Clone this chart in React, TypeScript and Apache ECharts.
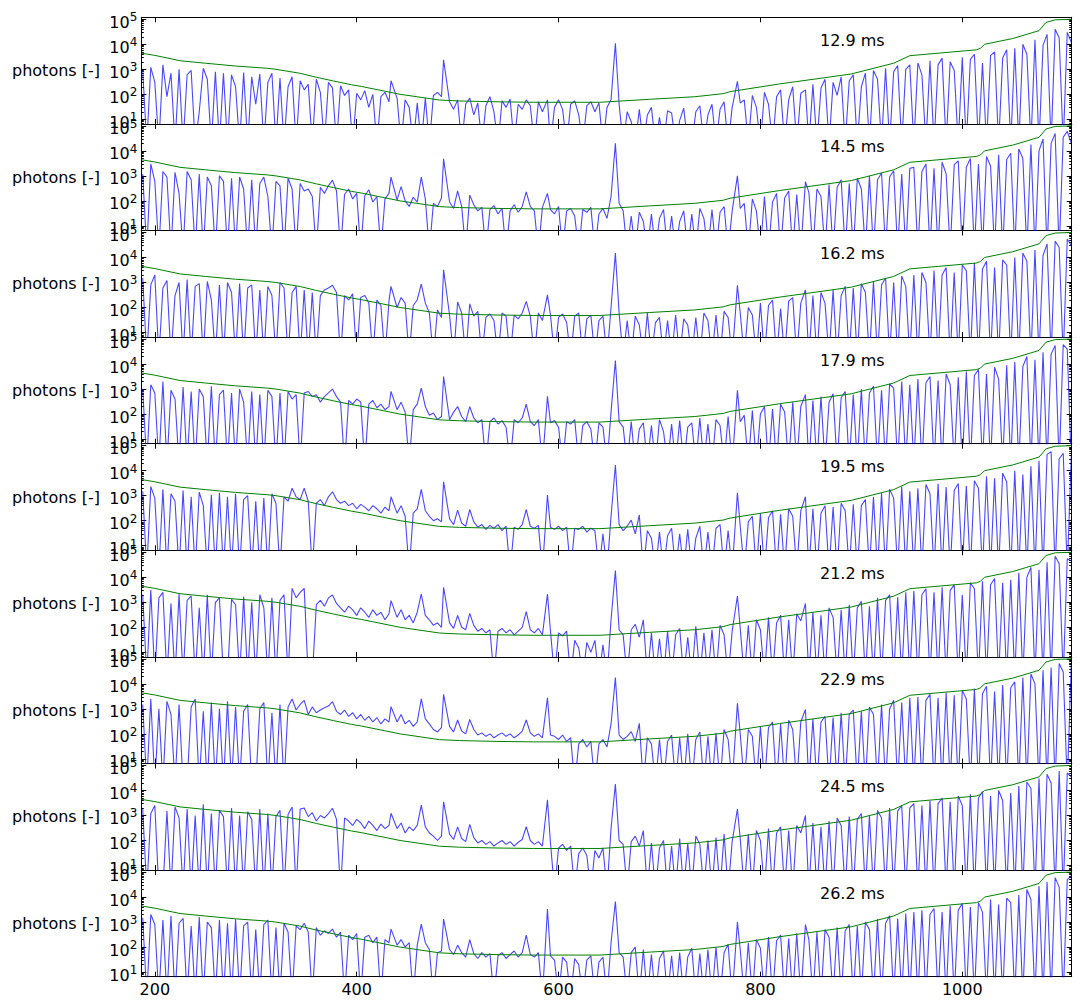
import React, { useEffect, useRef } from 'react';
import * as echarts from 'echarts';

// ---------- axis ranges & ticks ----------
const X_MIN = 186.6;
const X_MAX = 1108.4;
const Y_MIN = 6.55;
const Y_MAX = 120000;
const X_TICKS = [200, 400, 600, 800, 1000];
const Y_TICKS = [10, 100, 1000, 10000, 100000];
const TIMES_MS = ['12.9', '14.5', '16.2', '17.9', '19.5', '21.2', '22.9', '24.5', '26.2'];

// spectrum sampled on a regular wavelength grid: 188, 192, ..., 1108 nm
const GRID_START_NM = 188;
const GRID_STEP_NM = 4;

// emission lines (nm) and their peak photons per panel
const LINE_NM = [434.0, 486.1, 589.0, 656.3, 777.2, 844.6];
const LINES_1 = [350, 2400, 60, 11000, 330, 150];
const LINES_2 = [900, 4800, 200, 20000, 1000, 590];
const LINES_3 = [700, 3200, 320, 15000, 770, 500];
const LINES_4 = [810, 3200, 520, 14000, 890, 600];
const LINES_5 = [910, 3600, 1070, 17000, 1320, 910];
const LINES_6 = [1170, 4000, 2150, 18600, 1780, 900];
const LINES_7 = [1230, 3800, 2800, 18000, 1660, 950];
const LINES_8 = [1230, 3550, 4200, 18000, 1820, 1000];
const LINES_9 = [525, 1320, 3300, 6700, 1000, 800];

// green threshold curve
const GREEN_NM = [187, 200, 225, 250, 280, 311, 320, 344, 360, 377, 395, 405, 443, 482, 502, 540, 575, 641, 690, 735, 763, 770, 819, 860, 890, 932, 948, 1014, 1018, 1022, 1050, 1076, 1083, 1092, 1108];
const GREEN_PHOTONS = [4400, 3600, 2200, 1750, 1350, 1100, 1000, 690, 480, 340, 240, 205, 100, 59, 54, 50, 48, 48, 63, 80, 106, 128, 260, 440, 650, 1750, 3500, 6000, 6900, 10000, 17000, 35000, 75000, 95000, 100000];

// blue spectra (photons), 231 samples each; 1 = below the axis floor
const SPEC_1 = [
  900, 1, 1200, 300, 1, 1500, 80, 700, 1, 1000, 1, 600, 900, 1, 20, 1100, 400, 1, 800, 1, 700,
  1, 600, 200, 1, 750, 1, 500, 40, 650, 1, 300, 700, 1, 450, 1, 200, 500, 1, 350, 150,
  250, 1, 400, 120, 1, 300, 180, 1, 220, 90, 150, 1, 110, 60, 140, 30, 100, 1, 80, 120, 50, 90, 70, 1, 60, 30, 1, 45, 1, 70, 1, 90, 120, 80, 60,
  50, 25, 60, 1, 40, 70, 15, 45, 1, 35, 80, 20, 1, 55, 30, 65, 1, 40, 25, 60,
  35, 1, 50, 20, 45, 1, 30, 60, 25, 1, 40, 55, 15, 1, 35, 50, 20, 45, 1, 30,
  60, 300, 40,
  1, 20, 8, 1, 25, 1, 15, 30, 1, 12, 1, 22, 18, 1, 9, 28, 1, 1, 20, 35, 1, 15, 40, 1, 25, 50, 1, 30, 300, 45,
  60, 1, 90, 30, 1, 120, 40, 1, 80, 150, 1, 60, 200, 1, 110, 340, 1,
  250, 1, 180, 400, 1, 300, 90, 500, 1, 350, 600, 1, 200, 700, 1, 900, 400, 1, 1100, 1, 800, 1400, 1, 1000, 1500,
  1, 1800, 600, 1, 2200, 1, 1500, 2800, 1, 2000, 900, 1, 3000, 1, 2500, 4000, 1, 1800, 1, 3500, 5000, 1, 2800, 6000, 1,
  7000, 1, 10000, 4000, 1, 15000, 1, 9000, 25000, 1, 40000, 18000, 1, 30000, 12000,
];
const SPEC_2 = [
  1200, 1, 3000, 600, 1, 1500, 900, 1, 1400, 200, 1, 1500, 700, 1, 1200, 1, 900, 400, 1, 1000, 600,
  1, 800, 1, 900, 300, 1, 700, 1, 500, 900, 150, 1, 600, 400, 1, 800, 300, 1, 500, 250,
  300, 150, 1, 350, 200, 400, 680, 250, 1, 180, 300, 120, 200, 1, 160, 280, 90, 150, 1, 120, 200, 150, 110, 370, 100, 60, 140, 90, 900, 120, 1, 80, 60, 130, 100,
  90, 50, 250, 60, 1, 170, 70, 40, 55, 1, 45, 65, 30, 50, 1, 40, 70, 35, 60, 230,
  60, 40, 1, 55, 200, 45, 30, 60, 1, 40, 50, 25, 1, 45, 35, 55, 1, 30, 50, 20,
  150, 300, 80,
  40, 1, 25, 1, 35, 15, 1, 30, 1, 20, 45, 1, 25, 1, 15, 40, 1, 30, 1, 50, 20, 1, 45, 1, 35, 60, 1, 40, 1000, 50,
  80, 1, 120, 40, 1, 150, 1, 90, 200, 1, 130, 250, 1, 180, 1, 590, 220,
  1, 300, 150, 1, 450, 1, 350, 700, 1, 500, 1, 800, 300, 1, 1000, 1, 700, 1300, 1, 900, 1600, 1, 1200, 1, 2000,
  2200, 1, 1500, 3000, 1, 2000, 1, 3500, 1200, 1, 2800, 4000, 1, 2200, 5000, 1, 3000, 1, 6000, 2500, 1, 7000, 1, 4500, 8000,
  1, 12000, 5000, 1, 18000, 1, 10000, 30000, 1, 20000, 50000, 1, 35000, 60000, 20000,
];
const SPEC_3 = [
  1500, 1, 800, 2000, 1, 600, 1200, 1, 300, 1000, 1, 1300, 1, 700, 900, 1, 1100, 200, 1, 800, 1,
  1000, 400, 1, 900, 1, 600, 800, 1, 500, 1, 700, 300, 1, 1000, 600, 1, 400, 700, 1, 500,
  1, 400, 1, 300, 500, 600, 770, 400, 1, 300, 200, 350, 1, 250, 300, 150, 1, 200, 120, 1, 180, 200, 100, 250, 150, 1, 120, 200, 870, 150, 60, 1, 80, 40, 100,
  50, 1, 165, 60, 1, 140, 45, 70, 1, 40, 55, 30, 1, 60, 45, 1, 50, 35, 60, 175,
  45, 1, 60, 30, 320, 50, 1, 40, 55, 25, 1, 45, 60, 1, 35, 50, 1, 30, 45, 1,
  100, 300, 60,
  1, 30, 1, 45, 20, 1, 60, 1, 25, 40, 1, 30, 1, 50, 1, 35, 20, 1, 40, 1, 60, 30, 1, 50, 1, 70, 40, 1, 770, 60,
  1, 100, 50, 1, 150, 1, 120, 200, 1, 90, 1, 180, 250, 1, 150, 500, 1,
  300, 1, 400, 150, 1, 500, 1, 300, 700, 1, 600, 1, 900, 400, 1, 1100, 1, 800, 1500, 1, 1000, 1, 1800, 700, 1,
  2000, 1, 2500, 1000, 1, 3000, 1, 2000, 4000, 1, 2500, 1, 5000, 3000, 1, 6000, 1, 3500, 7000, 1, 4000, 1, 8000, 5000, 1,
  10000, 1, 15000, 7000, 1, 20000, 1, 12000, 35000, 1, 45000, 25000, 1, 55000, 30000,
];
const SPEC_4 = [
  1000, 1, 1500, 700, 1, 2000, 1, 900, 400, 1, 1200, 1, 800, 1, 1000, 500, 1, 1300, 1, 600, 900,
  1, 700, 1, 1000, 300, 1, 800, 1, 600, 1, 900, 500, 1, 700, 1, 800, 400, 600, 1, 700,
  800, 500, 600, 300, 500, 700, 1000, 500, 300, 1, 350, 250, 400, 300, 1, 250, 350, 180, 250, 150, 200, 300, 150, 300, 120, 1, 150, 250, 1100, 200, 90, 110, 60, 80, 100,
  60, 120, 200, 80, 50, 200, 70, 45, 60, 1, 50, 70, 40, 55, 30, 1, 60, 45, 70, 250,
  50, 35, 60, 1, 520, 45, 55, 30, 1, 50, 40, 60, 1, 35, 50, 25, 1, 45, 30, 1,
  120, 300, 50,
  30, 1, 50, 1, 25, 45, 1, 35, 1, 60, 20, 1, 40, 1, 55, 1, 30, 45, 1, 70, 1, 40, 1, 60, 35, 1, 80, 1, 890, 50,
  90, 1, 140, 1, 100, 200, 1, 160, 1, 250, 120, 1, 300, 1, 200, 600, 1,
  350, 1, 500, 1, 300, 650, 1, 450, 800, 1, 600, 1, 1000, 1, 700, 1300, 1, 900, 1, 1600, 1100, 1, 2000, 1, 1500,
  1, 2500, 1, 1800, 3200, 1, 2200, 1, 4000, 1500, 1, 3000, 1, 5000, 1, 3500, 6000, 1, 4000, 1, 7500, 2500, 1, 9000, 1,
  12000, 1, 8000, 20000, 1, 15000, 1, 30000, 1, 25000, 55000, 1, 60000, 40000, 1,
];
const SPEC_5 = [
  1500, 1, 2300, 800, 1, 1800, 1, 1200, 600, 1, 1600, 1, 900, 1, 1400, 400, 1, 1100, 1, 1300, 1,
  900, 1, 1200, 1, 700, 1000, 1, 600, 1, 800, 1, 1200, 500, 1, 900, 600, 2000, 900, 700, 2000,
  600, 1, 500, 700, 400, 900, 1440, 700, 500, 600, 400, 500, 300, 450, 350, 250, 400, 300, 200, 350, 250, 300, 200, 400, 150, 1, 200, 300, 1780, 250, 150, 100, 120, 90, 80,
  120, 70, 265, 80, 60, 280, 90, 55, 70, 45, 65, 50, 70, 40, 60, 1, 55, 45, 70, 280,
  60, 50, 65, 1, 1070, 55, 45, 60, 40, 55, 1, 50, 45, 60, 35, 50, 40, 1, 30, 1,
  150, 400, 70,
  40, 60, 105, 30, 170, 1, 40, 20, 1, 35, 1, 25, 50, 1, 30, 1, 45, 1, 20, 60, 1, 35, 1, 50, 70, 1, 40, 1, 1320, 60,
  1, 90, 150, 1, 200, 1, 130, 250, 1, 180, 1, 300, 150, 1, 250, 910, 1,
  300, 1, 200, 400, 1, 350, 1, 500, 250, 1, 450, 1, 400, 700, 1, 900, 1, 1300, 1, 1800, 800, 1, 2300, 1, 1500,
  1, 2000, 1, 2800, 1200, 1, 3000, 1, 2200, 1, 1600, 3100, 1, 2500, 1, 4000, 2000, 1, 6000, 1, 5000, 1, 8000, 3500, 1,
  10000, 1, 7000, 1, 15000, 1, 25000, 1, 45000, 57000, 1, 30000, 50000, 1, 40000,
];
const SPEC_6 = [
  2000, 1, 3100, 1, 1500, 2500, 1, 900, 1, 2200, 1, 1200, 1800, 1, 600, 1, 2000, 1, 1000, 1500, 1,
  1, 1300, 800, 1, 1700, 1, 1000, 1, 2000, 600, 1, 1500, 1, 1200, 2000, 1, 3600, 1500, 2500, 3600,
  1, 1, 800, 1200, 700, 1500, 1950, 900, 600, 400, 700, 500, 300, 600, 400, 250, 500, 300, 400, 200, 350, 400, 250, 500, 200, 300, 150, 400, 2150, 300, 200, 120, 150, 100, 120,
  150, 90, 300, 100, 80, 360, 120, 70, 90, 60, 80, 1, 70, 90, 60, 80, 50, 70, 100, 425,
  80, 60, 90, 50, 2150, 70, 1, 60, 45, 70, 1, 30, 15, 1, 25, 10, 30, 1, 20, 1,
  200, 400, 80,
  50, 1, 80, 130, 40, 200, 1, 60, 1, 35, 1, 70, 1, 50, 90, 1, 40, 1, 110, 1, 60, 1, 80, 1, 120, 50, 1, 70, 1780, 90,
  1, 120, 1, 200, 80, 1, 250, 1, 150, 300, 1, 200, 1, 350, 180, 900, 1,
  400, 1, 300, 1, 600, 250, 1, 500, 1, 800, 1, 600, 1100, 1, 700, 1, 1500, 1, 1200, 2000, 1, 1600, 1, 2500, 1,
  2800, 1, 2000, 3500, 1, 2500, 1, 4000, 1, 3000, 5000, 1, 2000, 1, 6000, 3500, 1, 7000, 1, 5000, 9000, 1, 6000, 1, 8000,
  1, 15000, 1, 10000, 25000, 1, 20000, 1, 40000, 1, 70000, 35000, 1, 55000, 45000,
];
const SPEC_7 = [
  1500, 1, 2500, 1, 1000, 1, 2000, 600, 1, 1500, 1, 1, 1200, 2500, 1, 800, 1, 1800, 1, 1000, 1,
  2000, 1, 1200, 1, 800, 1500, 1, 1, 1000, 1800, 1, 700, 1, 1500, 1, 1200, 2500, 900, 1500, 2200,
  600, 1200, 700, 900, 1100, 1300, 1950, 800, 600, 900, 500, 700, 400, 600, 350, 500, 300, 450, 250, 400, 300, 500, 300, 600, 250, 350, 200, 300, 2500, 400, 250, 150, 120, 180, 150,
  200, 120, 360, 130, 100, 380, 150, 90, 110, 80, 100, 70, 90, 110, 80, 100, 70, 90, 130, 360,
  110, 80, 100, 70, 2800, 90, 80, 60, 90, 50, 70, 1, 40, 60, 30, 50, 1, 40, 60, 30,
  250, 500, 90,
  60, 80, 123, 50, 265, 1, 70, 40, 1, 60, 1, 50, 90, 1, 70, 1, 100, 1, 60, 120, 1, 80, 1, 110, 1, 150, 60, 1, 1660, 100,
  1, 150, 80, 1, 200, 1, 180, 300, 1, 250, 1, 350, 150, 1, 300, 950, 1,
  400, 1, 300, 500, 1, 450, 1, 700, 1, 600, 900, 1, 800, 1, 1200, 600, 1, 1500, 1, 1000, 2200, 1, 1800, 1, 2800,
  1, 3000, 1, 2200, 3800, 1, 2800, 1, 4500, 1, 3500, 1, 5500, 2500, 1, 6500, 1, 4000, 8000, 1, 5000, 1, 9000, 1, 7000,
  12000, 1, 18000, 1, 25000, 10000, 1, 35000, 1, 45000, 1, 65000, 30000, 1, 60000,
];
const SPEC_8 = [
  1800, 1, 1200, 2500, 1, 1, 1500, 1, 2200, 800, 1, 1800, 1, 1000, 1, 2800, 1, 1200, 1, 1600, 900,
  1, 2000, 1, 1000, 1, 1400, 700, 1, 1800, 1, 1200, 1, 900, 1600, 1, 1100, 2200, 1, 1800, 2000,
  900, 1300, 600, 1000, 800, 1200, 1950, 700, 1, 800, 600, 400, 700, 500, 300, 600, 400, 250, 450, 300, 400, 500, 300, 500, 200, 350, 250, 400, 2600, 350, 200, 150, 100, 150, 120,
  180, 110, 350, 120, 90, 440, 130, 80, 100, 70, 90, 60, 80, 100, 70, 90, 60, 85, 110, 355,
  100, 70, 90, 60, 4200, 80, 1, 50, 70, 40, 60, 1, 30, 50, 25, 1, 40, 20, 50, 1,
  300, 500, 100,
  70, 1, 90, 150, 60, 250, 1, 80, 1, 50, 100, 1, 60, 1, 120, 1, 80, 1, 150, 70, 1, 100, 1, 130, 1, 180, 1, 90, 1820, 120,
  1, 180, 1, 250, 100, 1, 300, 1, 200, 350, 1, 250, 1, 400, 200, 1000, 1,
  500, 1, 350, 1, 600, 1, 800, 400, 1, 900, 1, 700, 1200, 1, 1000, 1, 1600, 800, 1, 2000, 1, 1500, 2500, 1, 2000,
  3000, 1, 2500, 1, 4000, 1, 3000, 5000, 1, 3500, 1, 6000, 2500, 1, 7000, 1, 5000, 9000, 1, 6000, 1, 10000, 4000, 1, 8000,
  1, 15000, 1, 22000, 12000, 1, 30000, 1, 45000, 20000, 1, 60000, 1, 50000, 35000,
];
const SPEC_9 = [
  1500, 1, 2000, 800, 1, 1200, 1, 1800, 1, 900, 1400, 1, 700, 1, 1600, 1, 1000, 600, 1, 1200, 1,
  900, 1, 1300, 1, 700, 1000, 1, 500, 1, 800, 1200, 1, 600, 1, 900, 400, 1, 700, 500, 900,
  400, 1, 600, 300, 450, 350, 525, 250, 400, 1, 300, 200, 350, 1, 250, 300, 150, 250, 1, 200, 150, 250, 120, 200, 100, 150, 1, 120, 830, 150, 80, 1, 60, 70, 60,
  80, 50, 120, 60, 40, 200, 55, 35, 60, 40, 55, 1, 45, 60, 35, 50, 70, 40, 60, 300,
  50, 40, 60, 1, 3300, 45, 30, 1, 40, 25, 1, 35, 20, 1, 30, 45, 1, 25, 40, 1,
  150, 300, 60,
  40, 1, 60, 100, 1, 80, 1, 50, 1, 35, 70, 1, 45, 1, 60, 1, 40, 90, 1, 55, 1, 80, 1, 100, 1, 60, 130, 1, 1000, 80,
  1, 150, 1, 200, 90, 1, 250, 1, 180, 300, 1, 220, 1, 350, 1, 800, 200,
  1, 400, 1, 500, 250, 1, 600, 1, 450, 800, 1, 700, 1, 1000, 500, 1, 1300, 1, 900, 1800, 1, 1400, 1, 2200, 1,
  2500, 1, 3000, 1, 2000, 3500, 1, 2500, 1, 4500, 1, 3000, 5500, 1, 4000, 1, 6000, 2500, 1, 8000, 1, 5000, 1, 9000, 6000,
  1, 12000, 1, 20000, 8000, 1, 28000, 1, 40000, 1, 60000, 25000, 1, 50000, 70000,
];

const SPECTRA = [SPEC_1, SPEC_2, SPEC_3, SPEC_4, SPEC_5, SPEC_6, SPEC_7, SPEC_8, SPEC_9];
const LINES = [LINES_1, LINES_2, LINES_3, LINES_4, LINES_5, LINES_6, LINES_7, LINES_8, LINES_9];

// ---------- layout ----------
const FONT = 'DejaVu Sans';
const PLOT_LEFT = 141.3;
const PLOT_RIGHT = 1071.7;
const PLOT_TOP = 17.3;
const PANEL_H = 106.6;

function buildSpectrum(values: number[], lineVals: number[]): number[][] {
  const pts = values.map((v, i) => [GRID_START_NM + GRID_STEP_NM * i, v]);
  LINE_NM.forEach((nm, k) => {
    const idx = Math.round((nm - GRID_START_NM) / GRID_STEP_NM);
    pts[idx] = [nm, lineVals[k]];
  });
  return pts;
}

function minorTicks(): number[] {
  const out: number[] = [];
  for (let e = 0; e <= 5; e++) {
    for (let m = 2; m <= 9; m++) {
      const v = m * Math.pow(10, e);
      if (v > Y_MIN && v < Y_MAX) out.push(v);
    }
  }
  return out;
}

function buildOption() {
  const grid: any[] = [];
  const xAxis: any[] = [];
  const yAxis: any[] = [];
  const series: any[] = [];
  const graphic: any[] = [];
  const MINOR = minorTicks();
  const black = { color: '#000', width: 1 };

  for (let i = 0; i < SPECTRA.length; i++) {
    const top = PLOT_TOP + PANEL_H * i;
    const isLast = i === SPECTRA.length - 1;
    grid.push({
      left: PLOT_LEFT,
      top,
      width: PLOT_RIGHT - PLOT_LEFT,
      height: PANEL_H,
      containLabel: false,
      outerBoundsMode: 'none',
    });
    const xBase = {
      type: 'value',
      gridIndex: i,
      min: X_MIN,
      max: X_MAX,
      splitLine: { show: false },
      axisLine: { show: true, onZero: false, lineStyle: black },
      axisTick: { show: true, inside: true, length: 5, customValues: X_TICKS, lineStyle: black },
    };
    xAxis.push({
      ...xBase,
      position: 'bottom',
      axisLabel: {
        show: isLast,
        customValues: X_TICKS,
        margin: 5,
        color: '#000',
        fontSize: 16,
        fontFamily: FONT,
        formatter: (v: number) => String(v),
      },
    });
    xAxis.push({ ...xBase, position: 'top', axisLabel: { show: false } });

    const yBase = {
      type: 'log',
      logBase: 10,
      gridIndex: i,
      min: Y_MIN,
      max: Y_MAX,
      splitLine: { show: false },
    };
    yAxis.push({
      ...yBase,
      position: 'left',
      axisLine: { show: true, onZero: false, lineStyle: black },
      axisTick: { show: true, inside: true, length: 5, customValues: Y_TICKS, lineStyle: black },
      axisLabel: {
        show: true,
        customValues: Y_TICKS,
        margin: 4,
        formatter: (v: number) => `{b|10}{s|${Math.round(Math.log10(v))}}`,
        rich: {
          b: { fontSize: 16, fontFamily: FONT, color: '#000', lineHeight: 16, padding: [6, 0, 0, 0] },
          s: { fontSize: 12, fontFamily: FONT, color: '#000', lineHeight: 12, verticalAlign: 'top' },
        },
      },
    });
    yAxis.push({
      ...yBase,
      position: 'right',
      axisLine: { show: true, onZero: false, lineStyle: black },
      axisTick: { show: true, inside: true, length: 5, customValues: Y_TICKS, lineStyle: black },
      axisLabel: { show: false },
    });
    yAxis.push({
      ...yBase,
      position: 'left',
      axisLine: { show: false },
      axisTick: { show: true, inside: true, length: 2.5, customValues: MINOR, lineStyle: black },
      axisLabel: { show: false },
    });
    yAxis.push({
      ...yBase,
      position: 'right',
      axisLine: { show: false },
      axisTick: { show: true, inside: true, length: 2.5, customValues: MINOR, lineStyle: black },
      axisLabel: { show: false },
    });

    series.push({
      type: 'line',
      xAxisIndex: 2 * i,
      yAxisIndex: 4 * i,
      data: buildSpectrum(SPECTRA[i], LINES[i]),
      symbol: 'none',
      showSymbol: false,
      silent: true,
      clip: true,
      z: 2,
      lineStyle: { color: '#0000ff', width: 1.1, opacity: 0.72 },
    });
    series.push({
      type: 'line',
      xAxisIndex: 2 * i,
      yAxisIndex: 4 * i,
      data: GREEN_NM.map((nm, k) => [nm, GREEN_PHOTONS[k]]),
      symbol: 'none',
      showSymbol: false,
      silent: true,
      clip: true,
      z: 3,
      lineStyle: { color: '#008000', width: 1 },
    });

    graphic.push({
      type: 'text',
      x: 100,
      y: top + PANEL_H / 2,
      silent: true,
      style: {
        text: 'photons [-]',
        font: `16px "${FONT}"`,
        fill: '#000',
        align: 'right',
        textAlign: 'right',
        verticalAlign: 'middle',
        textVerticalAlign: 'middle',
      },
    });
    graphic.push({
      type: 'text',
      x: 820,
      y: top + 23,
      silent: true,
      style: {
        text: `${TIMES_MS[i]} ms`,
        font: `16px "${FONT}"`,
        fill: '#000',
        align: 'left',
        textAlign: 'left',
        verticalAlign: 'middle',
        textVerticalAlign: 'middle',
      },
    });
  }

  return {
    animation: false,
    backgroundColor: '#fff',
    textStyle: { fontFamily: FONT },
    grid,
    xAxis,
    yAxis,
    series,
    graphic,
  };
}

export default function App() {
  const ref = useRef<HTMLDivElement>(null);
  useEffect(() => {
    if (!ref.current) return;
    const chart = echarts.init(ref.current, null, { renderer: 'svg' });
    chart.setOption(buildOption() as any);
    return () => chart.dispose();
  }, []);
  return (
    <div
      ref={ref}
      style={{ position: 'fixed', left: 0, top: 0, width: 1082, height: 1007, background: '#fff' }}
    />
  );
}
